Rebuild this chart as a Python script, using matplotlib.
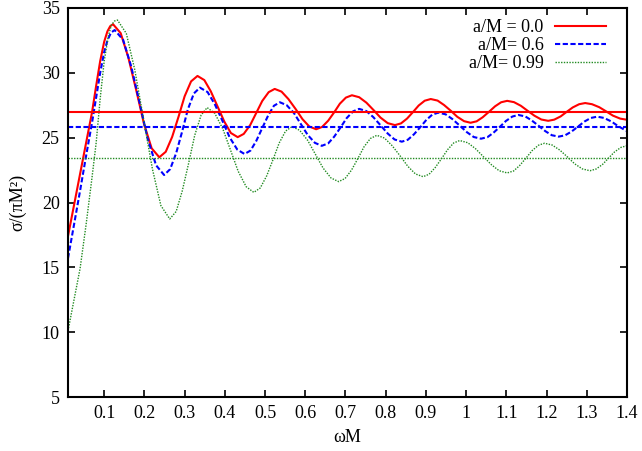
import matplotlib
matplotlib.use('Agg')
import matplotlib.pyplot as plt

plt.rcParams['font.family'] = ['Liberation Serif', 'DejaVu Serif']

# cross section sigma/(pi M^2) against omega*M for three spins
x_a00 = [0.010, 0.025, 0.040, 0.055, 0.070, 0.080, 0.090, 0.100, 0.108, 0.115, 0.122,
         0.141, 0.160, 0.180, 0.199, 0.218, 0.237,
         0.253, 0.269, 0.285, 0.300, 0.316, 0.332,
         0.349, 0.365, 0.382, 0.399, 0.415, 0.432,
         0.447, 0.463, 0.478, 0.493, 0.509, 0.524,
         0.541, 0.558, 0.576, 0.593, 0.610, 0.627,
         0.642, 0.657, 0.672, 0.686, 0.701, 0.716,
         0.734, 0.752, 0.770, 0.787, 0.805, 0.823,
         0.838, 0.853, 0.868, 0.882, 0.897, 0.912,
         0.929, 0.945, 0.962, 0.978, 0.995, 1.011,
         1.026, 1.041, 1.057, 1.072, 1.087, 1.102,
         1.119, 1.136, 1.153, 1.170, 1.187, 1.204,
         1.219, 1.235, 1.250, 1.265, 1.281, 1.296,
         1.313, 1.331, 1.348, 1.365, 1.383, 1.400]
y_a00 = [17.40, 19.80, 22.20, 24.60, 27.00, 29.00, 30.90, 32.40, 33.20, 33.60, 33.75,
         33.06, 31.19, 28.62, 26.06, 24.18, 23.49,
         23.91, 25.06, 26.63, 28.19, 29.34, 29.76,
         29.44, 28.58, 27.40, 26.22, 25.36, 25.04,
         25.29, 25.97, 26.90, 27.83, 28.51, 28.76,
         28.55, 27.98, 27.21, 26.43, 25.86, 25.65,
         25.83, 26.31, 26.96, 27.62, 28.09, 28.27,
         28.12, 27.70, 27.12, 26.55, 26.12, 25.97,
         26.10, 26.47, 26.98, 27.48, 27.85, 27.98,
         27.86, 27.52, 27.07, 26.61, 26.27, 26.15,
         26.26, 26.57, 27.00, 27.42, 27.73, 27.84,
         27.74, 27.46, 27.07, 26.69, 26.40, 26.30,
         26.39, 26.64, 26.99, 27.33, 27.58, 27.67,
         27.58, 27.35, 27.03, 26.70, 26.47, 26.38]

x_a06 = [0.010, 0.025, 0.040, 0.055, 0.070, 0.080, 0.090, 0.100, 0.108, 0.117, 0.126,
         0.147, 0.167, 0.188, 0.208, 0.229, 0.249,
         0.264, 0.279, 0.294, 0.308, 0.323, 0.338,
         0.357, 0.375, 0.394, 0.412, 0.431, 0.449,
         0.464, 0.478, 0.493, 0.508, 0.522, 0.537,
         0.554, 0.572, 0.589, 0.606, 0.624, 0.641,
         0.657, 0.672, 0.688, 0.703, 0.719, 0.734,
         0.752, 0.769, 0.787, 0.805, 0.822, 0.840,
         0.855, 0.870, 0.886, 0.901, 0.916, 0.931,
         0.949, 0.966, 0.984, 1.002, 1.019, 1.037,
         1.053, 1.068, 1.084, 1.099, 1.115, 1.130,
         1.147, 1.163, 1.180, 1.197, 1.213, 1.230,
         1.246, 1.262, 1.278, 1.294, 1.310, 1.326,
         1.343, 1.361, 1.378, 1.400]
y_a06 = [15.70, 18.30, 20.90, 23.60, 26.20, 28.10, 30.00, 31.60, 32.50, 33.10, 33.30,
         32.55, 30.51, 27.71, 24.92, 22.87, 22.12,
         22.57, 23.81, 25.49, 27.18, 28.41, 28.86,
         28.52, 27.58, 26.30, 25.02, 24.08, 23.74,
         24.01, 24.74, 25.74, 26.73, 27.46, 27.73,
         27.50, 26.89, 26.05, 25.21, 24.60, 24.37,
         24.56, 25.08, 25.80, 26.51, 27.03, 27.22,
         27.05, 26.59, 25.96, 25.32, 24.86, 24.69,
         24.84, 25.25, 25.81, 26.37, 26.78, 26.93,
         26.80, 26.43, 25.93, 25.42, 25.05, 24.92,
         25.04, 25.38, 25.84, 26.29, 26.63, 26.75,
         26.64, 26.33, 25.92, 25.50, 25.19, 25.08,
         25.18, 25.47, 25.85, 26.24, 26.52, 26.62,
         26.52, 26.25, 25.89, 25.50]

x_a099 = [0.010, 0.025, 0.040, 0.055, 0.070, 0.080, 0.090, 0.100, 0.110, 0.118, 0.126, 0.133,
          0.155, 0.176, 0.198, 0.220, 0.241, 0.263,
          0.279, 0.294, 0.310, 0.325, 0.341, 0.356,
          0.375, 0.395, 0.414, 0.433, 0.453, 0.472,
          0.488, 0.504, 0.520, 0.535, 0.551, 0.567,
          0.586, 0.606, 0.625, 0.644, 0.664, 0.683,
          0.699, 0.715, 0.731, 0.746, 0.762, 0.778,
          0.797, 0.816, 0.836, 0.855, 0.874, 0.893,
          0.908, 0.923, 0.939, 0.954, 0.969, 0.984,
          1.004, 1.023, 1.043, 1.063, 1.082, 1.102,
          1.118, 1.133, 1.149, 1.164, 1.180, 1.195,
          1.214, 1.233, 1.252, 1.270, 1.289, 1.308,
          1.323, 1.339, 1.354, 1.369, 1.385, 1.400]
y_a099 = [10.10, 12.50, 14.90, 18.30, 22.00, 24.60, 28.00, 30.90, 32.80, 33.70, 34.00, 34.07,
          33.04, 30.24, 26.40, 22.57, 19.76, 18.73,
          19.31, 20.88, 23.03, 25.17, 26.74, 27.32,
          26.88, 25.68, 24.05, 22.42, 21.22, 20.78,
          21.12, 22.05, 23.32, 24.58, 25.51, 25.85,
          25.57, 24.79, 23.73, 22.67, 21.89, 21.61,
          21.85, 22.50, 23.40, 24.29, 24.94, 25.18,
          24.97, 24.38, 23.59, 22.79, 22.20, 21.99,
          22.18, 22.69, 23.39, 24.08, 24.59, 24.78,
          24.61, 24.16, 23.53, 22.91, 22.45, 22.28,
          22.43, 22.85, 23.43, 24.00, 24.42, 24.57,
          24.43, 24.04, 23.51, 22.98, 22.59, 22.45,
          22.58, 22.93, 23.42, 23.90, 24.25, 24.38]

# high frequency limits
limit_a00 = 27.0
limit_a06 = 25.85
limit_a099 = 23.41

labels = ['a/M = 0.0', 'a/M= 0.6', 'a/M= 0.99']
x_ticks = [0.1, 0.2, 0.3, 0.4, 0.5, 0.6, 0.7, 0.8, 0.9, 1.0, 1.1, 1.2, 1.3, 1.4]
x_tick_labels = ['0.1', '0.2', '0.3', '0.4', '0.5', '0.6', '0.7', '0.8', '0.9',
                 '1', '1.1', '1.2', '1.3', '1.4']
y_ticks = [5, 10, 15, 20, 25, 30, 35]

red = '#ff0000'
blue = '#0000ff'
green = '#228b22'
dash = (0, (2.5, 1.2))
dot = (0, (1, 1))

fig = plt.figure(figsize=(6.42, 4.51), dpi=100)
ax = fig.add_axes([68 / 642, 1 - 397 / 451, 559 / 642, 389 / 451])

ax.plot(x_a00, y_a00, color=red, lw=1.5, label=labels[0])
ax.plot(x_a06, y_a06, color=blue, lw=1.5, linestyle=dash, label=labels[1])
ax.plot(x_a099, y_a099, color=green, lw=1.0, linestyle=dot, label=labels[2])

ax.axhline(limit_a00, color=red, lw=1.5)
ax.axhline(limit_a06, color=blue, lw=1.5, linestyle=dash)
ax.axhline(limit_a099, color=green, lw=1.0, linestyle=dot)

ax.set_xlim(0.01, 1.4)
ax.set_ylim(5, 35)
ax.set_xticks(x_ticks)
ax.set_xticklabels(x_tick_labels)
ax.set_yticks(y_ticks)
ax.tick_params(direction='in', top=True, right=True, length=5, width=1.2,
               labelsize=13, pad=6)
for s in ax.spines.values():
    s.set_linewidth(1.5)

ax.set_xlabel('ωM', fontsize=13, labelpad=5)
ax.set_ylabel('σ/(πM²)', fontsize=13, labelpad=11)

ax.legend(loc='upper right', bbox_to_anchor=(0.975, 0.99), frameon=False,
          markerfirst=False, fontsize=13, handlelength=2.8, handletextpad=0.65,
          labelspacing=0.05, borderaxespad=0.2, borderpad=0.2)

fig.savefig('out.png', dpi=100)
